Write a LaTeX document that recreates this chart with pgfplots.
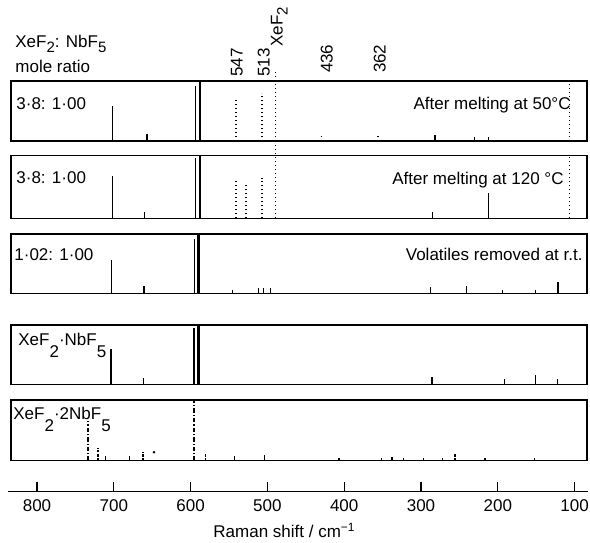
\documentclass[border=0pt]{standalone}
\usepackage{fontspec}
\setmainfont{Liberation Sans}
\usepackage{pgfplots}
\pgfplotsset{compat=1.18}

% lowered subscripts as in the hand lettering
\newcommand{\sbs}[1]{\raisebox{-2.5pt}{\fontsize{7.5pt}{8pt}\selectfont #1}}
\newcommand{\sbd}[1]{\raisebox{-6pt}{\fontsize{8.5pt}{9pt}\selectfont #1}}

\pgfplotsset{
  panel/.style={
    scale only axis, width=288pt, height=#1,
    xmin=90.2, xmax=840.2, x dir=reverse,
    ymin=0, ymax=1, xtick=\empty, ytick=\empty,
    axis line style={line width=0.6pt},
    clip=false, anchor=south west,
  },
  stick/.style={ycomb, no markers, black, line width=0.6pt},
  bold stick/.style={ycomb, no markers, black, line width=1.1pt},
  dot stick/.style={ycomb, no markers, black, line width=0.8pt, dash pattern=on 0.7pt off 1.3pt},
  dashdot stick/.style={ycomb, no markers, black, line width=0.7pt, dash pattern=on 2.2pt off 1pt on 0.6pt off 1pt},
  broken stick/.style={ycomb, no markers, black, line width=0.8pt, dash pattern=on 1.4pt off 0.7pt},
}

\begin{document}
\begin{tikzpicture}[font=\fontsize{8.5pt}{10pt}\selectfont]
\path[use as bounding box] (0,0) rectangle (295pt,-271pt);

\node[anchor=north west, inner sep=0pt] at (7.5pt,-17.5pt) {XeF\sbs{2}: NbF\sbs{5}};
\node[anchor=north west, inner sep=0pt] at (7.5pt,-29.7pt) {mole ratio};

% panel 1
\begin{axis}[panel=30pt, at={(5.5pt,-70.5pt)}]
\addplot[stick] coordinates {(708,0.58) (663,0.11) (288,0.10) (237,0.07) (218,0.07)};
\addplot[stick] coordinates {(600,0.92)};
\addplot[bold stick] coordinates {(594,1.0)};
\addplot[dot stick] coordinates {(560,0.06) (547,0.73) (513,0.80) (496,1.15) (436,0.13) (362,0.12) (113,1.0)};
\node[anchor=north west, inner sep=0pt, xshift=2.5pt, yshift=-8pt] at (rel axis cs:0,1) {3·8: 1·00};
\node[anchor=north east, inner sep=0pt, xshift=-8pt, yshift=-8pt] at (rel axis cs:1,1) {After melting at 50°C};
\node[rotate=90, anchor=west, inner sep=0pt] at (axis cs:546,1.067) {547};
\node[rotate=90, anchor=west, inner sep=0pt] at (axis cs:511,1.067) {513};
\node[rotate=90, anchor=west, inner sep=0pt] at (axis cs:491,1.57) {XeF\sbs{2}};
\node[rotate=90, anchor=west, inner sep=0pt] at (axis cs:429,1.128) {436};
\node[rotate=90, anchor=west, inner sep=0pt] at (axis cs:360,1.128) {362};
\end{axis}

% panel 2
\begin{axis}[panel=31.3pt, at={(5.5pt,-109.15pt)}]
\addplot[stick] coordinates {(708,0.67) (666,0.10) (291,0.10) (218,0.40)};
\addplot[stick] coordinates {(600,0.97)};
\addplot[bold stick] coordinates {(594,1.0)};
\addplot[dot stick] coordinates {(547,0.60) (534,0.55) (513,0.65) (496,1.24) (113,1.0)};
\node[anchor=north west, inner sep=0pt, xshift=2.5pt, yshift=-8pt] at (rel axis cs:0,1) {3·8: 1·00};
\node[anchor=north east, inner sep=0pt, xshift=-11.5pt, yshift=-8pt] at (rel axis cs:1,1) {After melting at 120 °C};
\end{axis}

% panel 3
\begin{axis}[panel=29.65pt, at={(5.5pt,-146.65pt)}]
\addplot[stick] coordinates {(709,0.56) (667,0.12) (552,0.05) (518,0.09) (511,0.09) (502,0.09)
  (294,0.10) (247,0.12) (200,0.06) (157,0.05) (128,0.19)};
\addplot[stick] coordinates {(601,0.92)};
\addplot[bold stick] coordinates {(596,1.0)};
\node[anchor=north west, inner sep=0pt, xshift=1.5pt, yshift=-7pt] at (rel axis cs:0,1) {1·02: 1·00};
\node[anchor=north east, inner sep=0pt, xshift=-2pt, yshift=-7pt] at (rel axis cs:1,1) {Volatiles removed at r.t.};
\end{axis}

% panel 4
\begin{axis}[panel=29.65pt, at={(5.5pt,-192.15pt)}]
\addplot[stick] coordinates {(710,0.60) (668,0.11) (292,0.13) (198,0.085) (157,0.16) (129,0.085)};
\addplot[stick] coordinates {(602,0.95)};
\addplot[bold stick] coordinates {(596,1.0)};
\node[anchor=north west, inner sep=0pt, xshift=3.5pt, yshift=-4pt] at (rel axis cs:0,1) {XeF\sbd{2}·NbF\sbd{5}};
\end{axis}

% panel 5
\begin{axis}[panel=30.35pt, at={(5.5pt,-230.35pt)}]
\addplot[dashdot stick] coordinates {(740,0.66) (602,1.0)};
\addplot[broken stick] coordinates {(727,0.21) (668,0.14) (587,0.13) (262,0.13)};
\addplot[stick] coordinates {(717,0.08) (686,0.07) (549,0.07) (510,0.09) (413,0.05) (358,0.05)
  (344,0.06) (329,0.05) (303,0.05) (278,0.05) (223,0.05) (159,0.05)};
\addplot[only marks, mark=*, mark size=0.4pt, black] coordinates {(654,0.14)};
\node[anchor=north west, inner sep=0pt, xshift=1pt, yshift=-3.3pt] at (rel axis cs:0,1) {XeF\sbd{2}·2NbF\sbd{5}};
\end{axis}

% wavenumber scale
\begin{axis}[scale only axis, width=290pt, height=10pt, at={(4pt,-245.85pt)}, anchor=south west,
  xmin=82.6, xmax=837.8, x dir=reverse, ymin=0, ymax=1,
  hide y axis, axis x line*=bottom, x axis line style={-, line width=0.6pt},
  xtick={100,200,...,800}, tick align=inside, major tick length=5pt,
  xtick style={line width=0.6pt, black},
  xticklabel style={inner sep=0pt, yshift=-4pt},
  /pgf/number format/assume math mode=true]
\addplot[draw=none] coordinates {(100,0) (800,0)};
\end{axis}

\node[anchor=north, inner sep=0pt] at (142.25pt,-261.5pt) {Raman shift / cm\textsuperscript{−1}};
\end{tikzpicture}
\end{document}
